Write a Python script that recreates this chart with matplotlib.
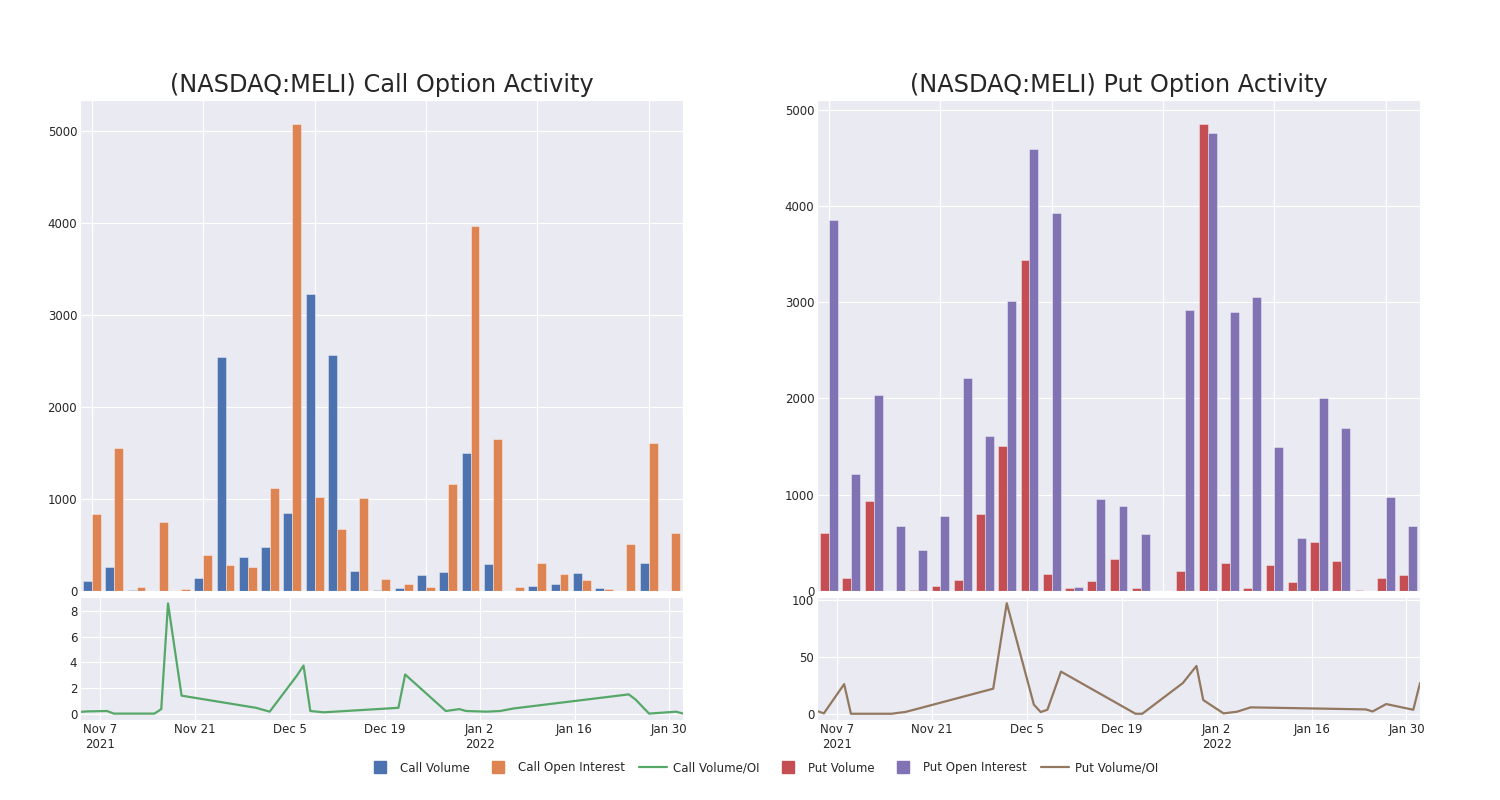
import matplotlib
matplotlib.use("Agg")
import matplotlib.pyplot as plt
import matplotlib.dates as mdates
from matplotlib.ticker import FixedLocator
from matplotlib.lines import Line2D
import seaborn as sns
import pandas as pd
import numpy as np

sns.set_style("darkgrid")
plt.rcParams['font.family'] = ['DejaVu Sans']

dates = ["2021-11-04", "2021-11-05", "2021-11-08", "2021-11-09", "2021-11-15", "2021-11-16",
         "2021-11-17", "2021-11-19", "2021-11-30", "2021-12-02", "2021-12-06", "2021-12-07",
         "2021-12-08", "2021-12-10", "2021-12-21", "2021-12-22", "2021-12-28", "2021-12-30",
         "2021-12-31", "2022-01-03", "2022-01-05", "2022-01-07", "2022-01-24", "2022-01-25",
         "2022-01-27", "2022-01-31", "2022-02-01"]

call_volume = [109, 258, 8, 3, 0, 145, 2544, 374, 476, 847, 3230, 2562, 214, 7,
               33, 174, 207, 1501, 298, 2, 55, 73, 196, 29, 1, 305, 4]
call_oi = [836, 1559, 44, 745, 18, 389, 287, 262, 1123, 5076, 1017, 672, 1010, 127,
           76, 47, 1163, 3968, 1650, 44, 305, 185, 120, 22, 509, 1613, 629]
call_ratio = [0.13, 0.17, 0.20, 0.0, 0.0, 0.35, 8.6, 1.4, 0.45, 0.15, 2.95, 3.75, 0.2, 0.1,
              0.45, 3.05, 0.2, 0.35, 0.2, 0.15, 0.2, 0.4, 1.5, 1.1, 0.0, 0.15, 0.0]

put_volume = [604, 132, 937, 2, 14, 56, 115, 795, 1503, 3434, 174, 31, 104, 330,
              28, 0, 212, 4851, 292, 31, 271, 97, 510, 316, 14, 132, 167]
put_oi = [3854, 1215, 2031, 674, 431, 781, 2215, 1608, 3014, 4590, 3927, 45, 955, 879,
          597, 5, 2920, 4757, 2903, 3052, 1493, 552, 2003, 1691, 0, 976, 670]
put_ratio = [2.4, 0.3, 26, 0.0, 0.0, 0.8, 1.5, 4.6, 22, 97, 8, 1.5, 3.5, 37,
             0.0, 0.0, 27, 42, 12, 0.3, 1.8, 5.6, 3.8, 2.0, 8.5, 3.5, 27]

tick_dates = ["2021-11-07", "2021-11-21", "2021-12-05", "2021-12-19",
              "2022-01-02", "2022-01-16", "2022-01-30"]
tick_labels = ["Nov 7\n2021", "Nov 21", "Dec 5", "Dec 19", "Jan 2\n2022", "Jan 16", "Jan 30"]

titles = ["(NASDAQ:MELI) Call Option Activity", "(NASDAQ:MELI) Put Option Activity"]
pal = sns.color_palette("deep")
c_blue, c_orange, c_green, c_red, c_purple, c_brown = pal[0], pal[1], pal[2], pal[3], pal[4], pal[5]

dts = pd.to_datetime(dates)
tdts = pd.to_datetime(tick_dates)

fig = plt.figure(figsize=(15, 8), dpi=100)

panels = [
    (0.0533, call_volume, call_oi, call_ratio, c_blue, c_orange, c_green, (0, 5338), (-0.5, 9.1), [0, 2, 4, 6, 8]),
    (0.5447, put_volume, put_oi, put_ratio, c_red, c_purple, c_brown, (0, 5100), (-5.5, 102.5), [0, 50, 100]),
]

for k, (left, vol, oi, ratio, cv, co, cl, ylim_top, ylim_bot, bticks) in enumerate(panels):
    ax = fig.add_axes([left, 0.26125, 0.402, 0.61375])
    axb = fig.add_axes([left, 0.10, 0.402, 0.15375])
    x = np.arange(len(dates))
    ax.bar(x - 0.2, vol, width=0.4, color=cv, edgecolor=(1, 1, 1, 0.55), linewidth=0.5)
    ax.bar(x + 0.2, oi, width=0.4, color=co, edgecolor=(1, 1, 1, 0.55), linewidth=0.5)
    ax.set_xlim(-0.54, 26.54)
    ax.set_ylim(*ylim_top)
    ax.set_xticks(np.arange(0, 27, 5))
    ax.set_xticklabels([])
    ax.tick_params(axis='x', length=0)
    ax.tick_params(axis='y', labelsize=8.5, pad=2, length=0)
    ax.set_title(titles[k], fontsize=17.3, color='#262626', pad=6)

    axb.plot(dts, ratio, color=cl, linewidth=1.6)
    axb.set_xlim(dts[0], dts[-1])
    axb.set_ylim(*ylim_bot)
    axb.set_yticks(bticks)
    axb.xaxis.set_major_locator(FixedLocator(mdates.date2num(tdts)))
    axb.set_xticklabels(tick_labels)
    axb.tick_params(axis='both', labelsize=8.5, pad=2, length=0)

handles = [
    Line2D([], [], marker='s', linestyle='none', color=c_blue, markersize=8),
    Line2D([], [], marker='s', linestyle='none', color=c_orange, markersize=8),
    Line2D([], [], color=c_green, linewidth=1.6),
    Line2D([], [], marker='s', linestyle='none', color=c_red, markersize=8),
    Line2D([], [], marker='s', linestyle='none', color=c_purple, markersize=8),
    Line2D([], [], color=c_brown, linewidth=1.6),
]
labels = ["Call Volume", "Call Open Interest", "Call Volume/OI",
          "Put Volume", "Put Open Interest", "Put Volume/OI"]
fig.legend(handles, labels, loc='center', bbox_to_anchor=(0.508, 0.04), ncol=6,
           frameon=False, fontsize=8.5, handlelength=2.4, columnspacing=1.2, handletextpad=0.5)

fig.savefig("out.png", dpi=100)
